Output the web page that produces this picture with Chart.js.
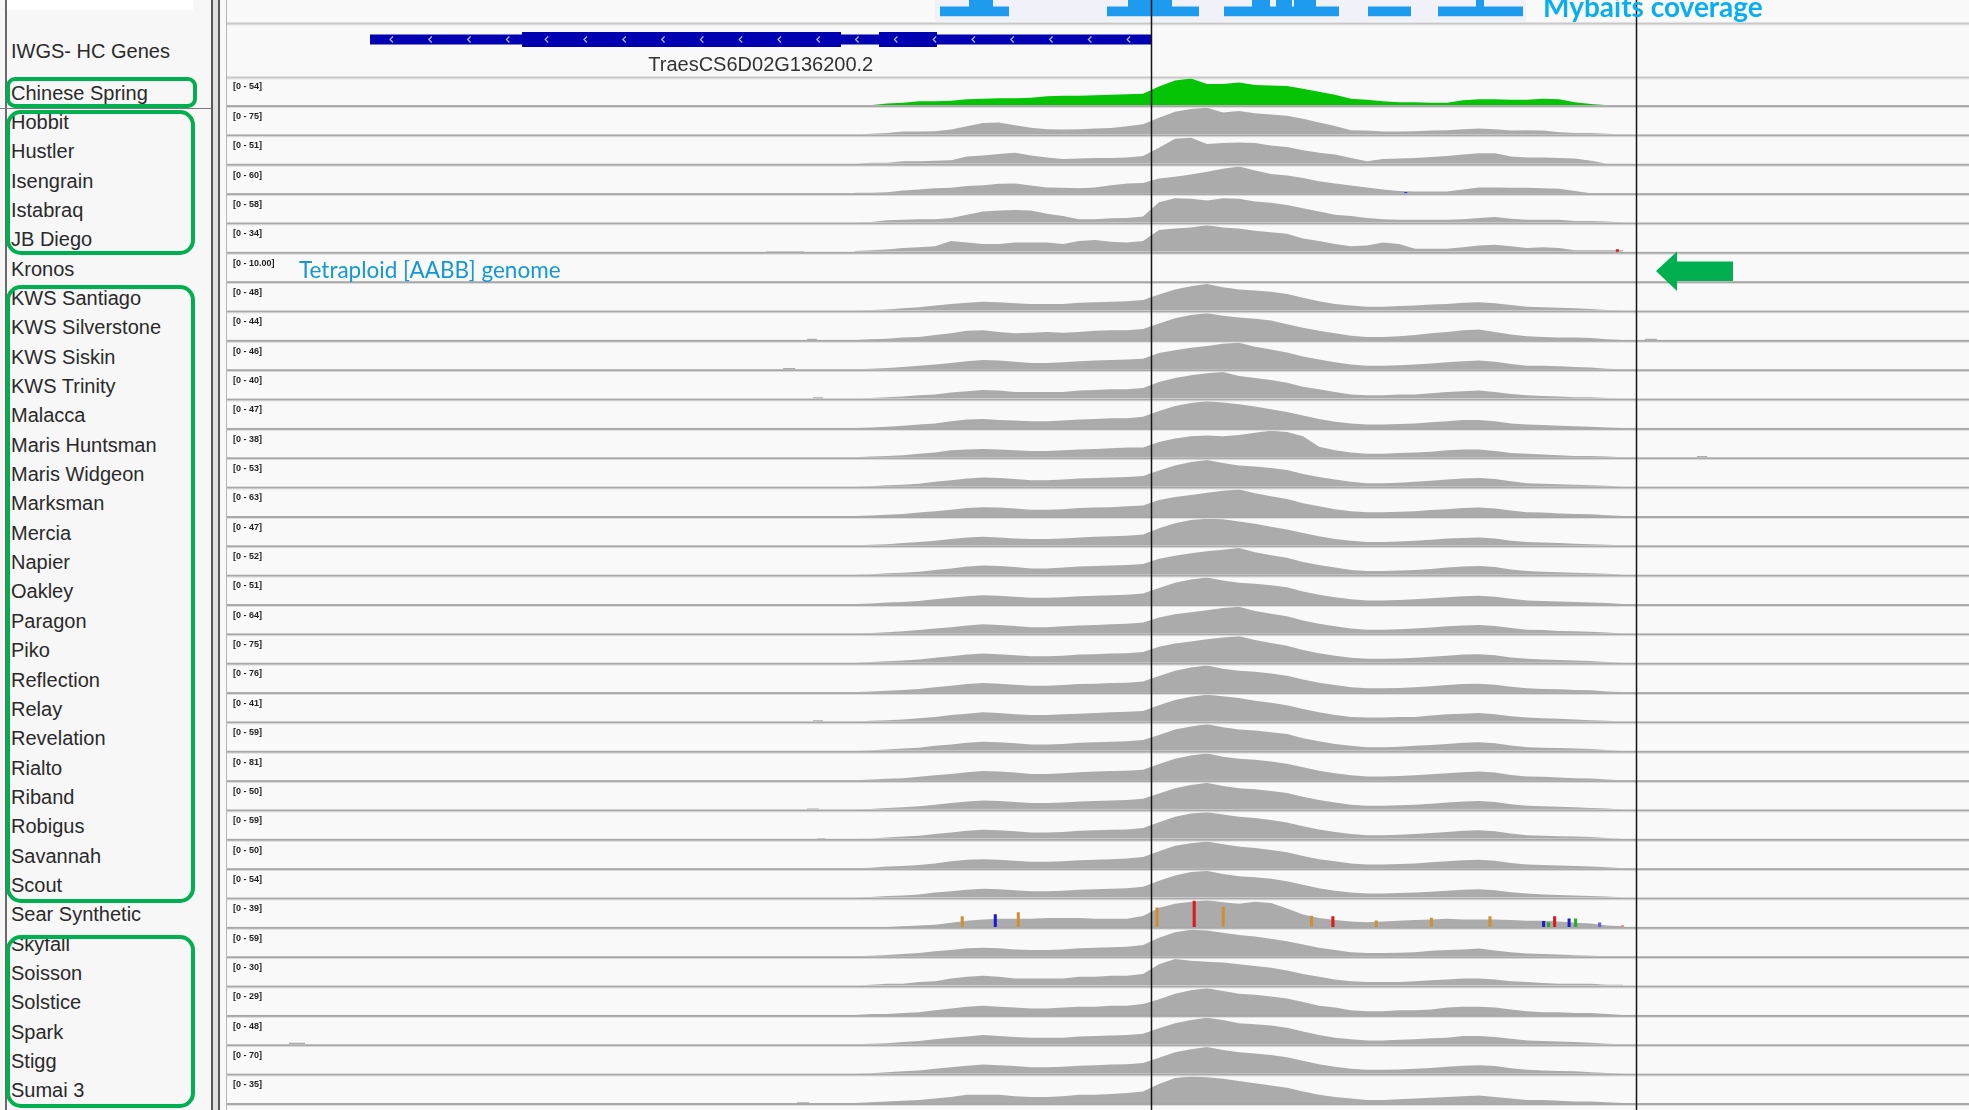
<!DOCTYPE html>
<html>
<head>
<meta charset="utf-8">
<title>IGV coverage – TraesCS6D02G136200.2</title>
<script src="https://cdn.jsdelivr.net/npm/chart.js@4.4.1/dist/chart.umd.min.js"></script>
<style>
  html, body { margin:0; padding:0; width:1969px; height:1110px; overflow:hidden; background:#f9f9f9;
               font-family:"Liberation Sans", Arial, sans-serif; }
  #namePanel { position:absolute; left:0; top:0; width:211px; height:1110px; background:#f7f7f7; }
  .rule { position:absolute; }
  .name { position:absolute; left:11px; font-size:20px; color:#2a2a2a; white-space:nowrap; }
  .group { position:absolute; left:6px; width:189px; border:4.5px solid #00b050; border-radius:15px; box-sizing:border-box; }
  #view { position:absolute; left:227px; top:0; }
  #tetra { position:absolute; left:299px; top:259px; font:22.5px Lato, "Open Sans", sans-serif; line-height:22px; color:#1497d4; white-space:nowrap; }
  #baitTitle { position:absolute; left:1543px; top:-8px; font:bold 28px Lato, "Open Sans", sans-serif; line-height:28px; color:#0aaef0; white-space:nowrap; }
  #arrow { position:absolute; left:1656px; top:251px; }
</style>
</head>
<body>
<div id="namePanel"></div>
<canvas id="view" width="1742" height="1110"></canvas>
<div id="tetra">Tetraploid [AABB] genome</div>
<div id="baitTitle">Mybaits coverage</div>
<svg id="arrow" width="80" height="41"><polygon points="0,20 21,0.5 21,10.5 77,10.5 77,30 21,30 21,40" fill="#00b050"/></svg>

<script>
// ---- tracks -------------------------------------------------------------
const trackNames = ["Chinese Spring","Hobbit","Hustler","Isengrain","Istabraq","JB Diego","Kronos",
  "KWS Santiago","KWS Silverstone","KWS Siskin","KWS Trinity","Malacca","Maris Huntsman","Maris Widgeon",
  "Marksman","Mercia","Napier","Oakley","Paragon","Piko","Reflection","Relay","Revelation","Rialto",
  "Riband","Robigus","Savannah","Scout","Sear Synthetic","Skyfall","Soisson","Solstice","Spark","Stigg","Sumai 3"];
const rangeMax = [54,75,51,60,58,34,10,48,44,46,40,47,38,53,63,47,52,51,64,75,76,41,59,81,50,59,50,54,39,59,30,29,48,70,35];
const rangeText = ["54","75","51","60","58","34","10.00","48","44","46","40","47","38","53","63","47","52","51","64",
  "75","76","41","59","81","50","59","50","54","39","59","30","29","48","70","35"];

// ---- read depth in 160 bp windows starting at 6,200 bp ------------------
const coverageStart = 6200;
const binSize = 160;
const covChineseSpring = [0,0,3,5,8,8,9,12,13,14,14,15,18,19,19,20,21,22,23,38,50,54,43,43,46,41,40,39,33,27,21,13,11,8,6,6,5,5,10,12,12,11,11,13,12,6,2,0,0];
const covHobbit = [0,2,4,8,8,9,14,23,32,34,26,19,15,14,15,17,18,23,29,47,64,72,75,62,66,60,56,53,44,34,24,12,11,8,8,9,11,12,15,17,15,11,12,11,6,4,4,2,0];
const covHustler = [0,2,2,5,5,6,7,14,16,19,21,16,12,9,10,11,11,12,15,31,48,50,38,40,41,40,35,32,26,21,18,11,5,9,10,11,13,15,18,20,20,14,12,12,11,10,6,0,0];
const covIsengrain = [1,1,2,6,8,11,12,16,18,21,22,17,13,12,11,13,18,22,23,33,37,42,48,55,60,51,43,40,34,27,22,17,13,8,5,4,4,4,8,13,13,12,12,11,10,5,0,0,0];
const covIstabraq = [0,1,5,6,7,7,10,17,24,26,27,26,19,14,7,7,9,10,13,44,53,52,48,53,52,46,43,38,31,24,17,14,10,7,6,6,6,6,7,10,12,8,6,6,6,3,3,2,0];
const covJBDiego = [1,2,3,5,6,7,14,12,10,10,12,12,12,10,14,15,13,12,14,28,30,31,34,31,30,27,25,23,17,14,10,7,8,12,10,4,4,4,6,8,9,7,5,6,5,2,2,2,2];
const covKronos = [];
const covKWSSantiago = [0,1,2,4,6,9,12,14,16,15,13,12,12,12,14,15,16,17,19,29,38,44,48,42,38,36,34,30,23,17,12,9,7,7,8,9,11,12,14,15,13,10,7,6,5,4,3,1,0];
const covKWSSilverstone = [0,1,2,4,5,8,11,15,16,13,11,12,13,12,13,15,16,16,18,27,36,41,44,40,37,35,32,26,20,15,11,7,5,5,6,8,11,13,16,17,13,9,6,5,4,4,3,1,0];
const covKWSSiskin = [0,1,2,4,6,8,11,14,16,15,13,11,11,12,14,15,16,17,18,28,33,37,40,44,46,39,34,29,22,17,12,8,6,6,7,8,10,12,14,15,13,9,6,6,5,4,3,1,0];
const covKWSTrinity = [0,1,2,3,5,6,9,11,13,12,10,10,10,10,12,13,14,14,16,25,31,35,38,40,34,31,28,24,18,14,10,6,5,5,6,6,8,10,11,12,10,7,5,4,3,2,2,1,0];
const covMalacca = [0,1,2,4,6,8,12,15,16,14,13,12,12,13,15,16,17,17,20,30,39,44,47,45,42,38,33,28,22,16,11,8,6,6,7,8,10,12,14,14,12,8,6,5,4,3,2,1,0];
const covMarisHuntsman = [0,1,2,3,5,7,10,11,12,11,10,9,9,10,11,12,13,14,14,22,27,30,31,30,32,35,38,36,30,15,10,7,5,5,6,7,8,10,11,11,9,6,5,4,3,2,2,1,0];
const covMarisWidgeon = [0,1,3,4,6,10,13,16,18,17,15,13,13,14,16,17,18,19,21,32,42,49,53,47,42,40,37,33,25,19,14,10,7,7,8,10,12,14,16,17,15,11,7,6,5,4,3,2,0];
const covMarksman = [0,1,3,5,8,11,15,19,21,20,18,15,15,16,19,20,21,23,25,38,45,50,55,60,63,54,47,40,30,23,16,11,9,9,10,11,14,16,19,20,18,13,9,8,6,5,4,2,0];
const covMercia = [0,1,2,4,6,8,11,14,15,14,12,11,11,12,14,15,16,17,19,30,39,45,47,46,42,38,33,28,22,16,11,8,6,6,7,8,10,12,13,14,12,8,6,5,4,3,2,1,0];
const covNapier = [0,1,3,4,6,9,12,16,18,17,15,12,12,14,16,17,18,19,21,31,37,42,46,49,52,44,38,33,25,19,14,9,7,7,8,9,11,14,16,17,15,10,7,6,5,4,3,2,0];
const covOakley = [0,1,3,4,6,9,12,15,17,16,14,12,12,13,15,16,17,18,20,31,41,47,51,45,41,39,36,32,24,18,13,9,7,7,8,9,11,13,15,16,14,10,7,6,5,4,3,2,0];
const covParagon = [0,1,3,5,8,12,15,19,22,20,18,15,15,17,19,20,22,23,26,38,46,51,56,61,64,54,47,41,31,23,17,12,9,9,10,12,14,17,19,20,18,13,9,8,6,5,4,2,0];
const covPiko = [0,2,4,6,9,14,18,23,26,24,21,18,18,20,23,24,26,27,30,45,54,60,66,71,75,64,56,48,36,27,20,14,11,11,12,14,17,20,23,24,21,15,11,9,8,6,5,2,0];
const covReflection = [0,2,4,6,9,14,18,23,26,24,21,18,18,20,23,24,26,27,30,46,61,70,76,67,61,58,53,47,36,27,20,14,11,11,12,14,17,20,23,24,21,15,11,9,8,6,5,2,0];
const covRelay = [0,1,2,3,5,7,10,12,14,13,11,10,10,11,12,13,14,15,16,25,33,38,41,39,36,32,29,25,19,14,10,7,6,6,7,7,9,11,12,13,11,8,6,5,4,3,2,1,0];
const covRevelation = [0,1,3,5,7,11,14,18,20,19,17,14,14,15,18,19,20,21,24,35,47,54,59,52,47,45,41,37,28,21,15,11,8,8,9,11,13,15,18,19,17,12,8,7,6,5,4,2,0];
const covRialto = [0,2,4,6,10,15,19,24,28,26,23,19,19,21,24,26,28,29,32,49,65,75,81,71,65,62,57,50,39,29,21,15,11,11,13,15,18,21,24,26,23,16,11,10,8,6,5,2,0];
const covRiband = [0,1,3,4,6,9,12,15,17,16,14,12,12,13,15,16,17,18,20,30,40,46,50,44,40,38,35,31,24,18,13,9,7,7,8,9,11,13,15,16,14,10,7,6,5,4,3,2,0];
const covRobigus = [0,1,3,5,7,11,14,18,20,19,17,14,14,15,18,19,20,21,24,37,49,56,59,54,49,46,42,36,28,21,15,11,8,8,9,11,13,15,18,19,17,12,8,7,6,5,4,2,0];
const covSavannah = [0,1,3,4,6,9,13,16,17,16,14,12,12,13,15,16,17,18,21,32,42,47,50,45,41,38,34,30,23,17,13,9,7,7,8,9,11,13,15,16,14,10,7,6,5,4,3,2,0];
const covScout = [0,1,3,4,6,10,13,16,18,17,15,13,13,14,16,17,18,19,22,34,45,52,54,48,43,41,38,33,26,19,14,10,8,8,9,10,12,14,16,17,15,11,8,6,5,4,3,2,0];
const covSearSynthetic = [0,0,0,1,2,3,6,9,11,12,12,12,13,13,13,12,12,12,16,28,34,37,39,36,34,37,35,27,18,13,10,8,7,8,9,10,11,12,11,11,11,10,9,9,8,6,5,2,1];
const covSkyfall = [0,1,3,5,7,11,14,18,19,18,15,14,14,15,18,19,20,21,25,41,53,59,57,52,47,44,39,33,26,19,14,9,7,7,8,9,12,14,15,17,13,9,6,5,4,2,1,0,0];
const covSoisson = [0,1,2,2,4,5,8,10,11,10,8,8,8,8,10,10,11,11,13,24,30,28,27,26,24,22,20,17,13,10,7,5,4,4,4,5,6,7,8,8,7,5,4,3,2,2,2,1,1];
const covSolstice = [0,1,1,2,3,5,7,9,10,9,8,7,7,8,9,9,10,10,12,17,23,27,29,26,23,22,20,18,14,10,8,5,4,4,5,5,6,8,9,9,8,6,4,3,3,2,2,1,0];
const covSpark = [0,1,2,4,6,9,12,14,17,15,13,12,12,12,14,15,16,17,19,29,38,44,48,44,38,36,34,30,23,17,12,9,7,7,8,9,11,12,15,15,13,10,7,6,5,4,3,1,0];
const covStigg = [0,1,4,6,8,13,17,21,24,22,20,17,17,18,21,22,24,25,28,42,56,64,70,62,56,53,49,43,34,25,18,13,10,10,11,13,15,18,21,22,20,14,10,8,7,6,4,2,0];
const covSumai3 = [0,1,2,3,4,6,8,11,11,11,9,8,8,9,11,11,12,13,15,25,33,35,34,32,29,26,23,20,15,11,8,6,4,4,5,6,7,8,9,10,8,6,4,4,3,2,2,1,0];
const coverage = [covChineseSpring,covHobbit,covHustler,covIsengrain,covIstabraq,covJBDiego,covKronos,
  covKWSSantiago,covKWSSilverstone,covKWSSiskin,covKWSTrinity,covMalacca,covMarisHuntsman,covMarisWidgeon,
  covMarksman,covMercia,covNapier,covOakley,covParagon,covPiko,covReflection,covRelay,covRevelation,covRialto,
  covRiband,covRobigus,covSavannah,covScout,covSearSynthetic,covSkyfall,covSoisson,covSolstice,covSpark,covStigg,covSumai3];

// ---- isolated low-depth reads outside the main block (track, start, end, depth)
const strayTrack = [5,8,8,9,10,12,21,24,25,32,34];
const strayStart = [5390,5800,14180,5560,5860,14700,5860,5800,5900,620,5700];
const strayEnd   = [5770,5900,14300,5680,5960,14800,5960,5920,5980,780,5820];
const strayDepth = [1,2,2,2,2,2,2,2,2,3,1];

// ---- mismatching bases (track index, position, depth, base colour) -------
const snpTrack = [28,28,28,28,28,28,28,28,28,28,28,28,28,28,28,28,28,28,3,5];
const snpPos   = [7376,7707,7937,9324,9696,9987,10869,11083,11517,12068,12654,13190,13240,13300,13445,13510,13750,13980,11787,13880];
const snpDepth = [15,18,21,28,38,29,16,15,9,13,15,8,6,15,12,12,6,2,2,3];
const snpColor = ["#d0902f","#1c1cd8","#d0902f","#d0902f","#e01818","#d0902f","#d0902f","#e01818","#d0902f","#d0902f",
  "#d0902f","#1c1cd8","#20b020","#e01818","#1c1cd8","#20b020","#6060e0","#f08080","#3030ff","#e01818"];

// ---- gene model (minus strand) -------------------------------------------
const geneName = "TraesCS6D02G136200.2";
const geneStart = 1430, geneEnd = 9245;
const geneBlocks = [[1430,2950,"utr"],[2950,6140,"cds"],[6140,6520,"utr"],[6520,7100,"cds"],[7100,9245,"utr"]];
const chevronStart = 1640, chevronStep = 388;

// ---- bait depth (steps) ---------------------------------------------------
const baitPos   = [7130,7420,7660,7820, 8800,9010,9450,9720, 9970,10250,10430,10490,10650,10670,10890,11120, 11410,11840, 12110,12490,12570,12960];
const baitDepth = [1,2,1,0, 1,2,1,0, 1,2,1,2,1,2,1,0, 1,0, 1,2,1,0];
const baitPanel = [7080,12990];

// ---- region markers ------------------------------------------------------
const markers = [9245,14095];

// ---------------------------------------------------------------------------
const ROW_TOP = 78.5, ROW_H = 29.35;

// name panel
const panel = document.getElementById('namePanel');
function addDiv(parent, cls, css, text) {
  const d = document.createElement('div');
  d.className = cls; d.style.cssText = css; if (text) d.textContent = text;
  parent.appendChild(d); return d;
}
addDiv(document.body, 'rule', 'left:7px;top:0;width:186px;height:10px;background:#ffffff;');
addDiv(document.body, 'rule', 'left:5px;top:0;width:2px;height:1110px;background:#6a6a6a;');
addDiv(document.body, 'rule', 'left:0;top:107.5px;width:220px;height:1.5px;background:#7a7a7a;');
addDiv(document.body, 'rule', 'left:211px;top:0;width:2px;height:1110px;background:#5a5a5a;');
addDiv(document.body, 'rule', 'left:213px;top:0;width:5px;height:1110px;background:#e2e2e2;');
addDiv(document.body, 'rule', 'left:218px;top:0;width:2px;height:1110px;background:#5a5a5a;');
addDiv(document.body, 'rule', 'left:226px;top:0;width:1px;height:1110px;background:#b5b5b5;');
addDiv(panel, 'name', 'top:24.5px;height:52px;line-height:52px;', 'IWGS- HC Genes');
trackNames.forEach((n, i) => {
  addDiv(panel, 'name', `top:${ROW_TOP + ROW_H * i}px;height:${ROW_H}px;line-height:${ROW_H}px;`, n);
});
addDiv(document.body, 'group', 'top:77px;width:191px;height:31px;border-radius:9px;');
addDiv(document.body, 'group', 'top:110px;height:145px;');
addDiv(document.body, 'group', 'top:285px;height:618px;');
addDiv(document.body, 'group', 'top:935px;height:173px;');

// scales: one stacked y axis per band
const scales = { x: { type: 'linear', min: 0, max: 17420, offset: false, display: false } };
const sepIds = [];
function band(id, weight, extra) {
  scales[id] = Object.assign({ type: 'linear', position: 'right', stack: 'igv', stackWeight: weight,
                               display: false, min: 0, max: 1 }, extra || {});
}
band('bait', 16.5, { max: 1.65 });
band('bgap', 6);
band('sb', 2); sepIds.push('sb');
band('gene', 52);
band('sg', 2); sepIds.push('sg');
trackNames.forEach((n, i) => {
  band('t' + i, 26.6, { max: rangeMax[i] });
  band('s' + i, 2.75); sepIds.push('s' + i);
});
band('tail', 4.25);

const GRAY = '#ababab';
const datasets = [];
// mismatch bars grouped by track
[...new Set(snpTrack)].forEach(t => {
  const idx = snpTrack.map((v, j) => v === t ? j : -1).filter(j => j >= 0);
  datasets.push({ type: 'bar', yAxisID: 't' + t, order: 0,
    data: idx.map(j => ({ x: snpPos[j], y: snpDepth[j] })),
    backgroundColor: idx.map(j => snpColor[j]), barThickness: 2.4, borderWidth: 0 });
});
coverage.forEach((vals, i) => {
  datasets.push({ type: 'line', yAxisID: 't' + i, order: 1,
    data: vals.map((v, k) => ({ x: coverageStart + binSize * (k + 0.5), y: v })),
    fill: 'origin', backgroundColor: i === 0 ? '#05c305' : GRAY,
    borderWidth: 0, pointRadius: 0, pointHoverRadius: 0, tension: 0 });
});
strayTrack.forEach((t, j) => {
  datasets.push({ type: 'line', yAxisID: 't' + t, order: 1,
    data: [{ x: strayStart[j], y: strayDepth[j] }, { x: strayEnd[j], y: 0 }], stepped: 'before',
    fill: 'origin', backgroundColor: GRAY, borderWidth: 0, pointRadius: 0, pointHoverRadius: 0 });
});
datasets.push({ type: 'line', yAxisID: 'bait', order: 1,
  data: baitPos.map((p, k) => ({ x: p, y: baitDepth[k] })), stepped: 'before',
  fill: 'origin', backgroundColor: '#1e9bef', borderWidth: 0, pointRadius: 0, pointHoverRadius: 0 });

const igvPlugin = {
  id: 'igvTracks',
  beforeDatasetsDraw(chart) {
    const ctx = chart.ctx, xs = chart.scales.x, W = chart.width;
    const px = v => xs.getPixelForValue(v);
    ctx.save();
    // bait panel backdrop
    ctx.fillStyle = '#f1f1fa';
    ctx.fillRect(px(baitPanel[0]), 0, px(baitPanel[1]) - px(baitPanel[0]), chart.scales.bgap.bottom - 1);
    // track separators
    sepIds.forEach(id => {
      const s = chart.scales[id];
      const light = id === 'sb' || id === 'sg';
      ctx.fillStyle = light ? '#c8c8c8' : '#a8a8a8';
      ctx.fillRect(0, s.top, W, 2);
      ctx.fillStyle = '#d6d6d6';
      ctx.fillRect(0, s.top + 2, W, 0.75);
    });
    // gene model
    const g = chart.scales.gene, cy = g.top + 15;
    ctx.fillStyle = '#0000b2';
    geneBlocks.forEach(([s, e, kind]) => {
      const h = kind === 'cds' ? 15 : 10;
      ctx.fillRect(px(s), cy - h / 2, px(e) - px(s), h);
    });
    ctx.strokeStyle = '#b9b9e4'; ctx.lineWidth = 1.2;
    for (let p = chevronStart; p < geneEnd; p += chevronStep) {
      const x = px(p);
      ctx.beginPath(); ctx.moveTo(x + 2, cy - 3); ctx.lineTo(x - 1, cy); ctx.lineTo(x + 2, cy + 3); ctx.stroke();
    }
    ctx.fillStyle = '#333333';
    ctx.font = '20px "Liberation Sans", Arial, sans-serif';
    ctx.textAlign = 'center'; ctx.textBaseline = 'middle';
    ctx.fillText(geneName, px((geneStart + geneEnd) / 2), g.top + 41);
    ctx.restore();
  },
  afterDatasetsDraw(chart) {
    const ctx = chart.ctx, xs = chart.scales.x;
    ctx.save();
    ctx.fillStyle = '#151515';
    markers.forEach(m => ctx.fillRect(xs.getPixelForValue(m) - 0.75, 0, 1.5, chart.height));
    ctx.fillStyle = '#1e1e1e';
    ctx.font = 'bold 9px "Liberation Sans", Arial, sans-serif';
    ctx.textAlign = 'left'; ctx.textBaseline = 'top';
    rangeText.forEach((t, i) => ctx.fillText('[0 - ' + t + ']', 6, chart.scales['t' + i].top + 4));
    ctx.restore();
  }
};

new Chart(document.getElementById('view'), {
  type: 'line',
  data: { datasets },
  options: {
    responsive: false, animation: false, devicePixelRatio: 1, events: [],
    layout: { padding: 0, autoPadding: false },
    plugins: { legend: { display: false }, tooltip: { enabled: false } },
    scales
  },
  plugins: [igvPlugin]
});
</script>
</body>
</html>
